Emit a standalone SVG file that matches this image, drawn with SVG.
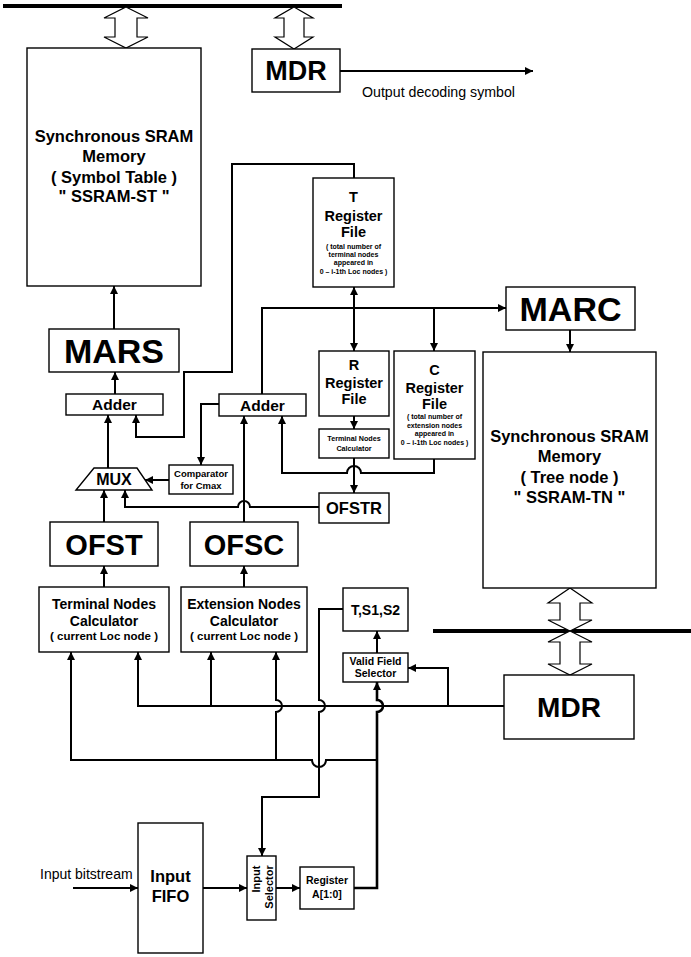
<svg xmlns="http://www.w3.org/2000/svg" width="691" height="957" viewBox="0 0 691 957">
<defs>
<style>
.box{fill:#fff;stroke:#000;stroke-width:1.4}
.hol{fill:#fff;stroke:#000;stroke-width:1.2}
.bus{stroke:#000;stroke-width:4;fill:none}
.ln{fill:none;stroke:#000;stroke-width:2}
.ln3{fill:none;stroke:#000;stroke-width:2.6}
.t{font-family:"Liberation Sans",Arial,Helvetica,sans-serif;font-weight:bold;text-anchor:middle;fill:#000}
.r{font-family:"Liberation Sans",Arial,Helvetica,sans-serif;fill:#000}
.xl{font-size:34px}
.l{font-size:29px}
.m{font-size:16.5px}
.ms{font-size:14.5px}
.s14{font-size:14px}
.sm{font-size:11.5px}
.xs{font-size:10.5px}
.cm{font-size:9.5px}
.tn{font-size:7.2px}
.tiny{font-size:7px}
</style>
<marker id="ah" viewBox="0 0 10 10" refX="10" refY="5" markerWidth="9" markerHeight="8" markerUnits="userSpaceOnUse" orient="auto-start-reverse">
<path d="M0,0 L10,5 L0,10 z" fill="#000"/>
</marker>
</defs>
<rect width="691" height="957" fill="#fff"/>

<g id="buses">
<line class="bus" x1="3" y1="6" x2="342" y2="6"/>
<line class="bus" x1="433" y1="631" x2="691" y2="631"/>
<polygon class="hol" points="126,7 148,18 137,18 137,37 148,37 126,48 104,37 115,37 115,18 104,18"/>
<polygon class="hol" points="294,7 313,18 304,18 304,37 313,37 294,49 275,37 284,37 284,18 275,18"/>
<polygon class="hol" points="570,588 592,603 580,603 580,620 592,620 570,631 548,620 560,620 560,603 548,603"/>
<polygon class="hol" points="570,631 592,642 580,642 580,664 592,664 570,675 548,664 560,664 560,642 548,642"/>
</g>

<g id="connectors">
<line class="ln" x1="340" y1="71" x2="533" y2="71" marker-end="url(#ah)"/>
<line class="ln" x1="114" y1="329" x2="114" y2="286" marker-end="url(#ah)"/>
<line class="ln" x1="115" y1="394" x2="115" y2="372" marker-end="url(#ah)"/>
<line class="ln" x1="108" y1="468" x2="108" y2="415" marker-end="url(#ah)"/>
<path class="ln" d="M354,178 V164 H232 V372 H184 V437 H136 V415" marker-end="url(#ah)"/>
<path class="ln" d="M354,287 V351" marker-start="url(#ah)" marker-end="url(#ah)"/>
<path class="ln" d="M262,394 V308 H506" marker-end="url(#ah)"/>
<path class="ln" d="M434,308 V351" marker-end="url(#ah)"/>
<path class="ln" d="M354,416 V429" marker-end="url(#ah)"/>
<path class="ln" d="M354,458 V493" marker-end="url(#ah)"/>
<path class="ln" d="M434,459 V473 H361 a7,7 0 0 0 -14,0 H282 V416" marker-end="url(#ah)"/>
<path class="ln" d="M219,404 H201 V465" marker-end="url(#ah)"/>
<path class="ln" d="M169,480 H145" marker-end="url(#ah)"/>
<path class="ln" d="M104,522 V490" marker-end="url(#ah)"/>
<path class="ln" d="M319,507 H250 a6,6 0 0 0 -12,0 H125 V490" marker-end="url(#ah)"/>
<path class="ln" d="M244,522 V416" marker-end="url(#ah)"/>
<path class="ln" d="M104,587 V566" marker-end="url(#ah)"/>
<path class="ln" d="M244,587 V566" marker-end="url(#ah)"/>
<path class="ln" d="M504,706 H138 V652" marker-end="url(#ah)"/>
<path class="ln" d="M211,706 V652" marker-end="url(#ah)"/>
<path class="ln" d="M448,706 V668 H408" marker-end="url(#ah)"/>
<path class="ln" d="M343,609 H319 V700 a6,6 0 0 1 0,12 V797 H262 V856" marker-end="url(#ah)"/>
<path class="ln3" d="M354,888 H377 V712 a6,6 0 0 0 0,-12 V682" marker-end="url(#ah)"/>
<path class="ln" d="M377,760 H326 a7,7 0 0 1 -14,0 H71 V652" marker-end="url(#ah)"/>
<path class="ln" d="M276,760 V712 a6,6 0 0 0 0,-12 V652" marker-end="url(#ah)"/>
<path class="ln" d="M377,653 V631" marker-end="url(#ah)"/>
<path class="ln" d="M570,330 V352" marker-end="url(#ah)"/>
<path class="ln" d="M73,888 H138" marker-end="url(#ah)"/>
<path class="ln" d="M203,888 H247" marker-end="url(#ah)"/>
<path class="ln" d="M276,888 H300" marker-end="url(#ah)"/>
</g>

<g id="ssram-st">
<rect class="box" x="27" y="48" width="174" height="238"/>
<text class="t m" x="114" y="142">Synchronous SRAM</text>
<text class="t m" x="114" y="162">Memory</text>
<text class="t m" x="114" y="183">( Symbol Table )</text>
<text class="t m" x="114" y="202">" SSRAM-ST "</text>
</g>

<g id="mdr-top">
<rect class="box" x="252" y="49" width="88" height="43"/>
<text class="t" style="font-size:27px" x="296" y="80">MDR</text>
</g>
<text class="r" style="font-size:14.2px" x="362" y="97">Output decoding symbol</text>

<g id="mars">
<rect class="box" x="49" y="329" width="130" height="43"/>
<text class="t xl" x="114" y="363">MARS</text>
</g>

<g id="adder1">
<rect class="box" x="66" y="394" width="97" height="21"/>
<text class="t" style="font-size:15.5px" x="114.5" y="410">Adder</text>
</g>

<g id="adder2">
<rect class="box" x="219" y="394" width="87" height="22"/>
<text class="t" style="font-size:15.5px" x="262.5" y="410.5">Adder</text>
</g>

<g id="t-register">
<rect class="box" x="313" y="178" width="81" height="109"/>
<text class="t ms" x="353.5" y="202">T</text>
<text class="t ms" x="353.5" y="221">Register</text>
<text class="t ms" x="353.5" y="237">File</text>
<text class="t tiny" x="353.5" y="248.5">( total number of</text>
<text class="t tiny" x="353.5" y="257">terminal nodes</text>
<text class="t tiny" x="353.5" y="265">appeared in</text>
<text class="t tiny" x="353.5" y="273.5">0 – i-1th Loc nodes )</text>
</g>

<g id="r-register">
<rect class="box" x="319" y="351" width="70" height="65"/>
<text class="t ms" x="354" y="370">R</text>
<text class="t ms" x="354" y="388">Register</text>
<text class="t ms" x="354" y="404">File</text>
</g>

<g id="c-register">
<rect class="box" x="394" y="351" width="81" height="108"/>
<text class="t ms" x="434.5" y="375">C</text>
<text class="t ms" x="434.5" y="393">Register</text>
<text class="t ms" x="434.5" y="409">File</text>
<text class="t tiny" x="434.5" y="419">( total number of</text>
<text class="t tiny" x="434.5" y="427.5">extension nodes</text>
<text class="t tiny" x="434.5" y="436">appeared in</text>
<text class="t tiny" x="434.5" y="445">0 – i-1th Loc nodes )</text>
</g>

<g id="tnc-small">
<rect class="box" x="319" y="429" width="70" height="29"/>
<text class="t tn" x="354" y="441">Terminal Nodes</text>
<text class="t tn" x="354" y="451">Calculator</text>
</g>

<g id="ofstr">
<rect class="box" x="319" y="493" width="70" height="30"/>
<text class="t m" x="354" y="514">OFSTR</text>
</g>

<g id="marc">
<rect class="box" x="506" y="287" width="129" height="43"/>
<text class="t xl" x="570.5" y="321">MARC</text>
</g>

<g id="ssram-tn">
<rect class="box" x="483" y="352" width="173" height="236"/>
<text class="t m" x="569.5" y="442">Synchronous SRAM</text>
<text class="t m" x="569.5" y="462">Memory</text>
<text class="t m" x="569.5" y="483">( Tree node )</text>
<text class="t m" x="569.5" y="503">" SSRAM-TN "</text>
</g>

<g id="comparator">
<rect class="box" x="169" y="465" width="64" height="29"/>
<text class="t cm" x="201" y="477">Comparator</text>
<text class="t cm" x="201" y="489">for Cmax</text>
</g>

<g id="mux">
<polygon class="box" points="94,468 137,468 152,490 76,490"/>
<text class="t" style="font-size:16px" x="114" y="485">MUX</text>
</g>

<g id="ofst">
<rect class="box" x="50" y="522" width="108" height="44"/>
<text class="t l" x="104" y="554.5">OFST</text>
</g>

<g id="ofsc">
<rect class="box" x="190" y="522" width="108" height="44"/>
<text class="t l" x="244" y="554.5">OFSC</text>
</g>

<g id="terminal-calc">
<rect class="box" x="39" y="587" width="130" height="65"/>
<text class="t s14" x="104" y="608.5">Terminal Nodes</text>
<text class="t s14" x="104" y="625.5">Calculator</text>
<text class="t sm" x="104" y="640">( current Loc node )</text>
</g>

<g id="extension-calc">
<rect class="box" x="181" y="587" width="126" height="65"/>
<text class="t s14" x="244" y="608.5">Extension Nodes</text>
<text class="t s14" x="244" y="625.5">Calculator</text>
<text class="t sm" x="244" y="640">( current Loc node )</text>
</g>

<g id="ts1s2">
<rect class="box" x="343" y="588" width="65" height="43"/>
<text class="t s14" x="375.5" y="614.5">T,S1,S2</text>
</g>

<g id="valid-field-selector">
<rect class="box" x="343" y="653" width="65" height="29"/>
<text class="t xs" x="375.5" y="664.5">Valid Field</text>
<text class="t xs" x="375.5" y="677">Selector</text>
</g>

<g id="mdr-bottom">
<rect class="box" x="504" y="675" width="130" height="64"/>
<text class="t" style="font-size:28px" x="569" y="717">MDR</text>
</g>

<g id="input-fifo">
<rect class="box" x="138" y="823" width="65" height="130"/>
<text class="t m" x="170.5" y="882">Input</text>
<text class="t m" x="170.5" y="902">FIFO</text>
</g>
<text class="r" style="font-size:14px" x="40" y="879">Input bitstream</text>

<g id="input-selector">
<rect class="box" x="247" y="856" width="29" height="64"/>
<text class="t" style="font-size:11px" transform="translate(260,879) rotate(-90)">Input</text>
<text class="t" style="font-size:11px" transform="translate(273,887) rotate(-90)">Selector</text>
</g>

<g id="register-a">
<rect class="box" x="300" y="867" width="54" height="42"/>
<text class="t xs" x="327" y="883.5">Register</text>
<text class="t xs" x="327" y="897.5">A[1:0]</text>
</g>
</svg>
